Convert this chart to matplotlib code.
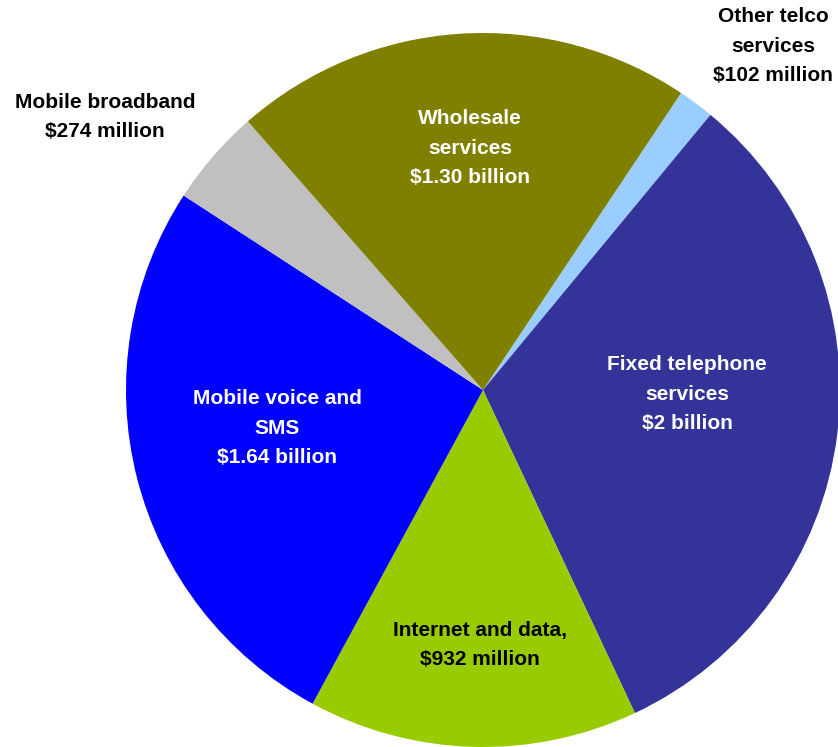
import matplotlib.pyplot as plt

# Telco revenue by segment, in $ million
segments = [
    "Other telco services",
    "Fixed telephone services",
    "Internet and data",
    "Mobile voice and SMS",
    "Mobile broadband",
    "Wholesale services",
]
revenue = [102, 2000, 932, 1640, 274, 1300]
colors = ["#99CCFF", "#333399", "#99CC00", "#0000FF", "#C0C0C0", "#808000"]

labels = [
    "Other telco\nservices\n$102 million",
    "Fixed telephone\nservices\n$2 billion",
    "Internet and data,\n$932 million",
    "Mobile voice and\nSMS\n$1.64 billion",
    "Mobile broadband\n$274 million",
    "Wholesale\nservices\n$1.30 billion",
]
label_xy = [(773, 46), (687, 394), (480, 645), (277, 428), (105, 117), (470, 148)]
label_colors = ["black", "white", "black", "white", "black", "white"]

W, H = 838, 747
fig = plt.figure(figsize=(W / 100, H / 100), dpi=100)
ax = fig.add_axes([0, 0, 1, 1])

cx, cy, r = 483, H - 390, 357
ax.pie(
    revenue,
    colors=colors,
    startangle=56.3,
    counterclock=False,
    center=(cx, cy),
    radius=r,
    wedgeprops=dict(linewidth=0),
)
ax.set_xlim(0, W)
ax.set_ylim(0, H)
ax.set_aspect("auto")
ax.axis("off")

for text, (x, y), c in zip(labels, label_xy, label_colors):
    ax.text(
        x, H - y, text,
        ha="center", va="center", multialignment="center",
        color=c, fontsize=15, fontweight="bold",
        family="Liberation Sans", linespacing=1.68,
    )

fig.savefig("out.png", dpi=100)
